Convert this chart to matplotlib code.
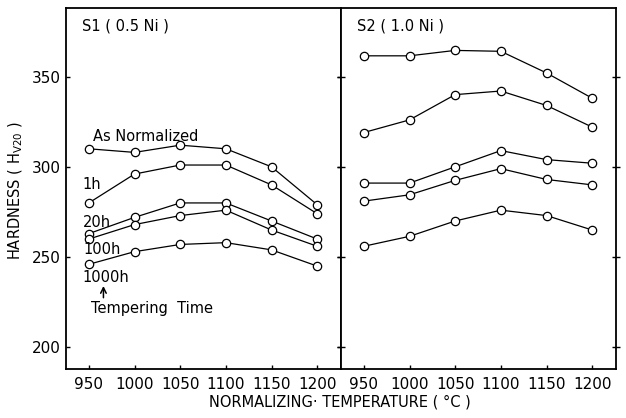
import matplotlib
matplotlib.use("Agg")
import matplotlib.pyplot as plt

temps = [950, 1000, 1050, 1100, 1150, 1200]

# S1 (0.5 Ni)
s1_as_norm = [310, 308, 312, 310, 300, 279]
s1_1h = [280, 296, 301, 301, 290, 274]
s1_20h = [263, 272, 280, 280, 270, 260]
s1_100h = [260, 268, 273, 276, 265, 256]
s1_1000h = [246, 253, 257, 258, 254, 245]

# S2 (1.0 Ni)
s2_as_norm = [361.5, 361.5, 364.5, 364, 352, 338]
s2_1h = [319, 326, 340, 342, 334, 322]
s2_20h = [291, 291, 300, 309, 304, 302]
s2_100h = [281, 284.5, 292.5, 299, 293, 290]
s2_1000h = [256, 261.5, 270, 276, 273, 265]

yticks = [200, 250, 300, 350]

plt.rcParams["font.family"] = "DejaVu Sans"

fig = plt.figure(figsize=(6.26, 4.18), dpi=100)
ax1 = fig.add_axes([0.1054, 0.1172, 0.4393, 0.8637])
ax2 = fig.add_axes([0.5447, 0.1172, 0.4393, 0.8637])

style = dict(color="black", lw=0.9, marker="o", ms=6, mfc="white",
             mec="black", mew=0.9)

for s in [s1_as_norm, s1_1h, s1_20h, s1_100h, s1_1000h]:
    ax1.plot(temps, s, **style)
for s in [s2_as_norm, s2_1h, s2_20h, s2_100h, s2_1000h]:
    ax2.plot(temps, s, **style)

for ax in (ax1, ax2):
    ax.set_xlim(925, 1226)
    ax.set_ylim(188, 388)
    ax.set_xticks(temps)
    ax.set_yticks(yticks)
    for sp in ax.spines.values():
        sp.set_linewidth(1.3)
    ax.tick_params(axis="x", direction="in", length=3, width=1, labelsize=11, pad=6)
    ax.tick_params(axis="y", direction="in", length=3, width=1, labelsize=11)

ax1.tick_params(axis="y", right=True)
ax2.tick_params(axis="y", left=True, right=True, labelleft=False)
ax2.tick_params(axis="y", which="both", direction="inout", length=6)

ax1.text(0.06, 0.95, "S1 ( 0.5 Ni )", transform=ax1.transAxes, fontsize=10.5, va="center")
ax2.text(0.06, 0.95, "S2 ( 1.0 Ni )", transform=ax2.transAxes, fontsize=10.5, va="center")

ax1.text(955, 317, "As Normalized", fontsize=10.5, va="center")
ax1.text(943, 290, "1h", fontsize=10.5, va="center")
ax1.text(943, 269, "20h", fontsize=10.5, va="center")
ax1.text(944, 254, "100h", fontsize=10.5, va="center")
ax1.text(943, 238.5, "1000h", fontsize=10.5, va="center")
ax1.annotate("", xy=(966, 234), xytext=(966, 227.5),
             arrowprops=dict(arrowstyle="->", color="black", lw=1.1,
                             shrinkA=0, shrinkB=0))
ax1.text(952, 221.5, "Tempering  Time", fontsize=10.5, va="center")

fig.text(0.543, 0.038, "NORMALIZING\u00b7 TEMPERATURE ( \u00b0C )", ha="center", va="center", fontsize=10.5)
fig.text(0.025, 0.545, r"HARDNESS ( H$\mathregular{_{V20}}$ )", rotation=90,
         ha="center", va="center", fontsize=10.5)

fig.savefig("out.png", dpi=100)
